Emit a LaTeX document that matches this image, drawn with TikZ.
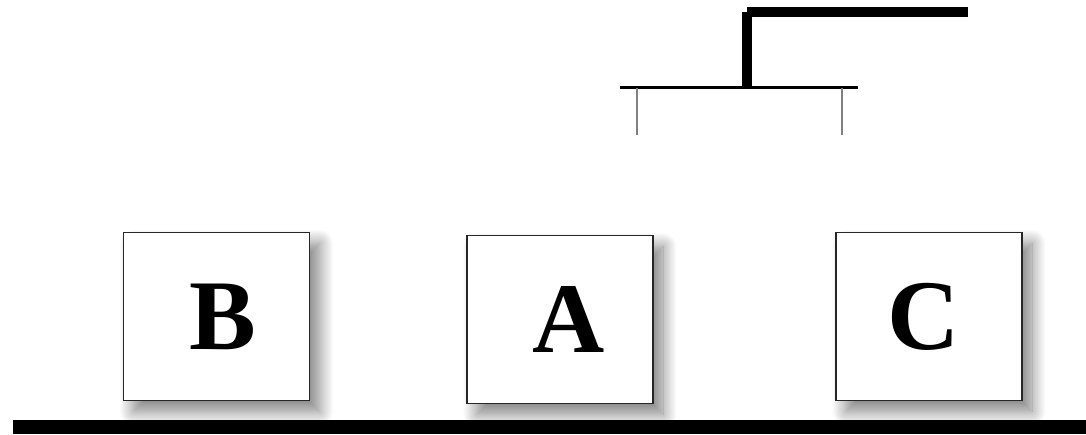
\documentclass[tikz,border=0pt]{standalone}
\usepackage{fontspec}
\setmainfont{Liberation Serif}
\usetikzlibrary{shadows.blur}
\begin{document}
\begin{tikzpicture}[x=1pt,y=-1pt,
  blockbox/.style={draw=black!85,line width=1.3pt,fill=white,inner sep=0pt,
    minimum width=186pt,minimum height=168pt,
    font=\fontsize{100}{100}\selectfont\bfseries,
    blur shadow={shadow xshift=10pt,shadow yshift=-11pt,shadow blur radius=14pt,shadow blur steps=16,shadow opacity=50}},
  armthick/.style={line width=10pt,line cap=butt},
  armthin/.style={line width=2.5pt},
  finger/.style={draw=black!50,line width=1.6pt}]
\useasboundingbox (0,0) rectangle (1086,434);
% blocks
\node[blockbox] (B) at (216.5,316.5) {\hspace*{12pt}B};
\node[blockbox] (A) at (560,319.5) {\hspace*{18pt}A};
\node[blockbox] (C) at (929,316.5) {C\hspace*{10pt}};
% ground
\fill[black] (13,420) rectangle (1086,434);
% gripper
\coordinate (armend) at (968,12);
\coordinate (armcorner) at (747,12);
\coordinate (wrist) at (747,87.5);
\coordinate (barL) at (620,87.5);
\coordinate (barR) at (858,87.5);
\coordinate (fLtop) at (637,88);
\coordinate (fLbot) at (637,135);
\coordinate (fRtop) at (842,88);
\coordinate (fRbot) at (842,135);
\draw[armthick] (armcorner) -- (armend);
\draw[armthick] (armcorner) -- (wrist);
\draw[armthin] (barL) -- (barR);
\draw[finger] (fLtop) -- (fLbot);
\draw[finger] (fRtop) -- (fRbot);
\end{tikzpicture}
\end{document}
